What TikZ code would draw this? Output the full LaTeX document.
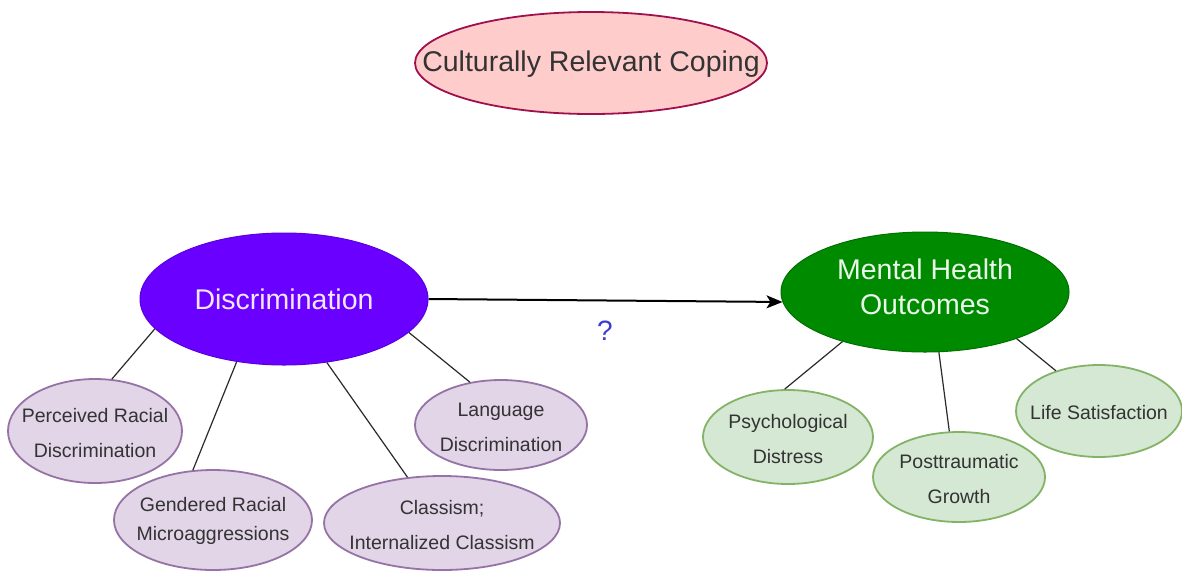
\documentclass[tikz,border=0pt]{standalone}
\usepackage{fontspec}
\setmainfont{Liberation Sans}
\usetikzlibrary{shapes.geometric,arrows.meta}
\definecolor{pfill}{HTML}{E1D5E7}
\definecolor{pstroke}{HTML}{9673A6}
\definecolor{gfill}{HTML}{D5E8D4}
\definecolor{gstroke}{HTML}{82B366}
\definecolor{txt}{HTML}{333333}
\definecolor{topfill}{HTML}{FFCCCC}
\definecolor{topstroke}{HTML}{A0104D}
\definecolor{violet}{HTML}{6A00FF}
\definecolor{violetstroke}{HTML}{5A00E0}
\definecolor{violettext}{HTML}{F3E6FF}
\definecolor{dgreen}{HTML}{008A00}
\definecolor{dgreenstroke}{HTML}{007000}
\definecolor{greentext}{HTML}{EAF8EA}
\definecolor{qblue}{HTML}{3C3CD2}
\definecolor{linkc}{HTML}{2A2A2A}
\tikzset{
  purp/.style={ellipse, draw=pstroke, fill=pfill, line width=1.8pt, inner sep=0pt},
  grn/.style={ellipse, draw=gstroke, fill=gfill, line width=1.8pt, inner sep=0pt},
  small/.style={align=center, text=txt, inner sep=0pt, font=\fontsize{19.5}{35}\selectfont},
  big/.style={align=center, inner sep=0pt, font=\fontsize{28.5}{35}\selectfont},
  link/.style={draw=linkc, line width=1.2pt},
}
\begin{document}
\begin{tikzpicture}[x=1pt,y=-1pt]
\useasboundingbox (0,0) rectangle (1182,571);
\fill[white] (0,0) rectangle (1182,571);

% top node
\node[ellipse, draw=topstroke, fill=topfill, line width=1.8pt, inner sep=0pt,
      minimum width=352pt, minimum height=102pt,
      label={[big,text=txt,yshift=-1pt]center:Culturally Relevant Coping}] (crc) at (591,63) {};

% main nodes
\node[ellipse, draw=violetstroke, fill=violet, line width=1pt, inner sep=0pt,
      minimum width=288pt, minimum height=132pt,
      label={[big,text=violettext]center:Discrimination}] (disc) at (284,299) {};
\node[ellipse, draw=dgreenstroke, fill=dgreen, line width=1pt, inner sep=0pt,
      minimum width=288pt, minimum height=120pt,
      label={[big,text=greentext,yshift=5pt]center:Mental Health\\Outcomes}] (ment) at (925,292) {};

% discrimination sub nodes
\node[purp, minimum width=174pt, minimum height=104pt,
      label={[small,yshift=-2pt]center:Perceived Racial\\Discrimination}] (perc) at (95,431) {};
\node[purp, minimum width=198pt, minimum height=100pt,
      label={[small,yshift=-1pt,font=\fontsize{19.5}{29}\selectfont]center:Gendered Racial\\Microaggressions}] (gend) at (213,520) {};
\node[purp, minimum width=236pt, minimum height=94pt,
      label={[small,yshift=-2pt]center:Classism;\\Internalized Classism}] (class) at (442,523) {};
\node[purp, minimum width=172pt, minimum height=90pt,
      label={[small,yshift=-2pt]center:Language\\Discrimination}] (lang) at (501,425) {};

% outcome sub nodes
\node[grn, minimum width=170pt, minimum height=94pt,
      label={[small,yshift=-2pt]center:Psychological\\Distress}] (psy) at (788,437) {};
\node[grn, minimum width=172pt, minimum height=90pt,
      label={[small,yshift=-2pt]center:Posttraumatic\\Growth}] (ptg) at (959,477) {};
\node[grn, minimum width=166pt, minimum height=92pt,
      label={[small,yshift=-2pt]center:Life Satisfaction}] (life) at (1099,411) {};

% main arrow
\draw[line width=2pt, -{Stealth[length=16pt,width=13pt,inset=4pt]}] (disc.east) -- (ment.184);
\node[font=\fontsize{28}{30}\selectfont, text=qblue, inner sep=0pt] (q) at (605,331) {?};

% links
\draw[link] (disc.193.5) -- (perc.72.6);
\draw[link] (disc.233.7) -- (gend.112.8);
\draw[link] (disc.304.5) -- (class.127.7);
\draw[link] (disc.345.1) -- (lang.126.9);
\draw[link] (ment.211.3) -- (psy.94.9);
\draw[link] (ment.283.1) -- (ptg.102.5);
\draw[link] (ment.333.4) -- (life.137.9);
\end{tikzpicture}
\end{document}
